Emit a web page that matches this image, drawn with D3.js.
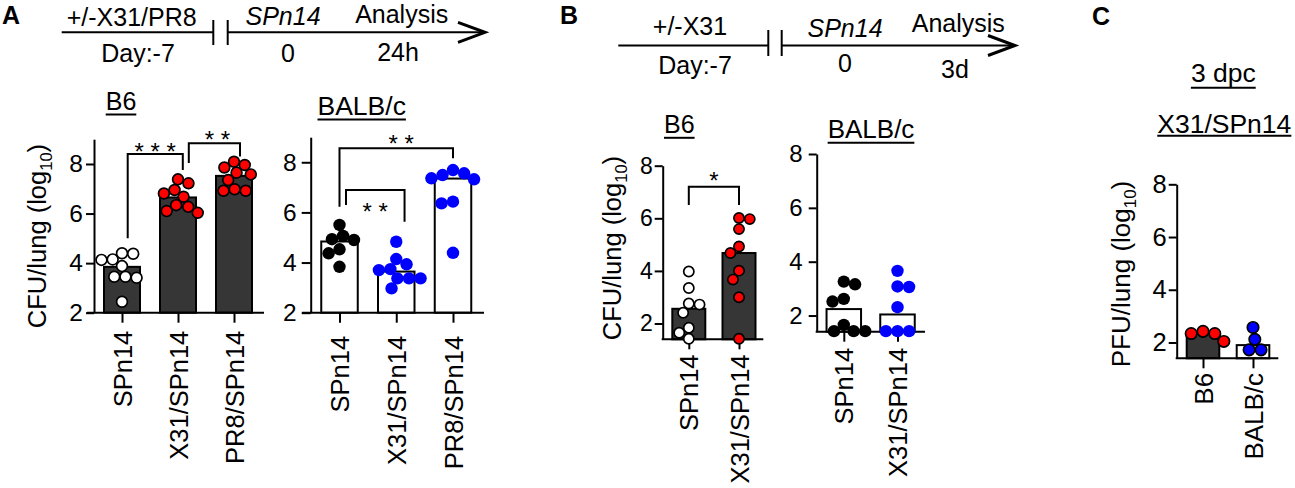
<!DOCTYPE html>
<html><head><meta charset="utf-8">
<script src="https://cdn.jsdelivr.net/npm/d3@7"></script>
<style>body{margin:0;background:#fff}svg{display:block}</style>
</head><body>
<script>
// ---------- DATA ----------
const catsA = ["SPn14", "X31/SPn14", "PR8/SPn14"];
const catsB = ["SPn14", "X31/SPn14"];
const catsC = ["B6", "BALB/c"];
const yTicks = [2, 4, 6, 8];

// Panel A, B6 (24h)
const aB6Bars = [3.85, 6.65, 7.52];
const aB6SPn14 = [4.40, 4.38, 4.15, 4.13, 3.88, 3.45, 3.45, 3.41, 2.44];
const aB6X31 = [7.38, 7.22, 6.95, 6.81, 6.68, 6.34, 6.27, 6.10, 6.03];
const aB6PR8 = [8.09, 7.96, 7.86, 7.65, 7.58, 7.35, 6.98, 6.92, 6.92];
// Panel A, BALB/c (24h)
const aBcBars = [4.84, 3.64, 7.35];
const aBcSPn14 = [5.50, 5.06, 4.93, 4.90, 4.53, 4.37, 3.83];
const aBcX31 = [4.83, 4.14, 3.93, 3.74, 3.70, 3.37, 3.37, 3.37, 2.97];
const aBcPR8 = [7.69, 7.56, 7.49, 7.36, 7.32, 6.43, 6.36, 4.39];
// Panel B, B6 (3d)
const bB6Bars = [2.56, 4.68];
const bB6SPn14 = [3.98, 3.35, 2.76, 2.72, 2.41, 1.84, 1.65, 1.42];
const bB6X31 = [6.01, 5.97, 5.59, 4.93, 4.68, 4.01, 3.67, 3.00, 1.42];
// Panel B, BALB/c (3d)
const bBcBars = [2.24, 2.04];
const bBcSPn14 = [3.26, 3.16, 2.62, 2.52, 1.65, 1.42, 1.42, 1.42];
const bBcX31 = [3.66, 3.08, 3.06, 2.31, 1.42, 1.42, 1.42];
// Panel C, PFU (3 dpc, X31/SPn14)
const cBars = [2.32, 1.90];
const cB6 = [2.42, 2.34, 2.34, 2.04];
const cBALBc = [2.57, 2.12, 1.72, 1.72];

// significance annotations (values in log10 units)
const sigAB6 = [
  {a: 0, b: 1, label: "* * *", top: 8.40, left: 5.00, right: 7.76},
  {a: 1, b: 2, label: "* *", top: 8.84, left: 8.04, right: 8.30}
];
const sigABc = [
  {a: 0, b: 2, label: "* *", top: 8.56, left: 6.23, right: 8.16},
  {a: 0, b: 1, label: "* *", top: 6.89, left: 6.30, right: 5.63}
];
const sigBB6 = [
  {a: 0, b: 1, label: "*", top: 7.20, left: 6.51, right: 6.51}
];

// ---------- DRAWING ----------
const FONT = "'Liberation Sans', Arial, Helvetica, sans-serif";
const svg = d3.select("body").append("svg").attr("width", 1295).attr("height", 488)
  .style("font-family", FONT);
svg.append("rect").attr("width", 1295).attr("height", 488).attr("fill", "#fff");

const DARK = "#363636", RED = "#ff0000", BLUE = "#0000ff", WHITE = "#ffffff";

function text(g, x, y, s, size, opts = {}) {
  const t = g.append("text").attr("x", x).attr("y", y).attr("font-size", size)
    .attr("text-anchor", opts.anchor || "middle").attr("fill", "#000").text(s);
  if (opts.bold) t.attr("font-weight", "bold");
  if (opts.italic) t.attr("font-style", "italic");
  return t;
}
function underlined(g, x, y, s, size, gap) {
  const t = text(g, x, y, s, size);
  const w = t.node().getComputedTextLength();
  g.append("line").attr("x1", x - w / 2).attr("x2", x + w / 2)
    .attr("y1", y + gap).attr("y2", y + gap).attr("stroke", "#000").attr("stroke-width", 2);
}
function yLabel(g, x, y, main, size) {
  const t = g.append("text").attr("transform", `translate(${x},${y}) rotate(-90)`)
    .attr("text-anchor", "middle").attr("font-size", size);
  t.append("tspan").text(main + " (log");
  t.append("tspan").attr("font-size", size * 0.65).attr("dy", size * 0.22).text("10");
  t.append("tspan").attr("dy", -size * 0.22).text(")");
}

// beeswarm placement of points around the category centre
function swarm(vals, y, r) {
  const pts = vals.map(v => ({v, y: y(v), x: 0})).sort((a, b) => a.y - b.y);
  const placed = [];
  for (const p of pts) {
    const iv = [];
    for (const q of placed) {
      const dy = p.y - q.y;
      if (Math.abs(dy) < 2 * r) {
        const dx = Math.sqrt(4 * r * r - dy * dy);
        iv.push([q.x - dx, q.x + dx]);
      }
    }
    const sum = d3.sum(placed, q => q.x);
    const cands = [0].concat(iv.flat()).sort((a, b) => {
      const d = Math.abs(a) - Math.abs(b);
      if (Math.abs(d) > 1e-6) return d;
      return sum > 0 ? a - b : b - a;
    });
    for (const c of cands) {
      if (iv.every(([l, h]) => c <= l + 1e-6 || c >= h - 1e-6)) { p.x = c; break; }
    }
    placed.push(p);
  }
  return placed;
}

function panel(cfg) {
  const g = svg.append("g");
  const y = d3.scaleLinear().domain(cfg.yDomain).range(cfg.yRange);
  const x = d3.scalePoint().domain(cfg.cats).range(cfg.catRange);
  const y0 = y(cfg.yDomain[0]);

  // bars
  g.selectAll("rect.bar").data(cfg.bars).join("rect")
    .attr("x", (d, i) => x(cfg.cats[i]) - cfg.barW / 2)
    .attr("y", d => y(d))
    .attr("width", cfg.barW)
    .attr("height", d => y0 - y(d))
    .attr("fill", (d, i) => cfg.barFill[i]).attr("stroke", "#000").attr("stroke-width", 2);

  // y axis
  const ya = g.append("g").attr("transform", `translate(${cfg.axisX},0)`)
    .call(d3.axisLeft(y).tickValues(yTicks).tickSize(cfg.tickLen || 8)
      .tickPadding(cfg.tickPad).tickSizeOuter(0).tickFormat(d3.format("d")));
  ya.select(".domain").attr("stroke-width", 2);
  ya.selectAll(".tick line").attr("stroke-width", 2);
  ya.selectAll(".tick text").attr("font-size", cfg.tickFont).attr("font-family", FONT).attr("fill", "#000");

  // x axis
  g.append("line").attr("x1", cfg.xStart).attr("x2", cfg.xEnd).attr("y1", y0).attr("y2", y0)
    .attr("stroke", "#000").attr("stroke-width", 2);
  const xa = g.append("g").attr("transform", `translate(0,${y0})`)
    .call(d3.axisBottom(x).tickSize(10).tickSizeOuter(0));
  xa.select(".domain").remove();
  xa.selectAll(".tick line").attr("stroke-width", 2);
  xa.selectAll(".tick text").attr("font-size", cfg.labelFont).attr("font-family", FONT).attr("fill", "#000")
    .attr("transform", "rotate(-90)").attr("x", -cfg.labelOff).attr("y", 0).attr("dy", "0.36em")
    .style("text-anchor", "end");

  // points
  cfg.points.forEach((vals, i) => {
    const cx = x(cfg.cats[i]);
    const st = cfg.pointStyle[i];
    const pts = swarm(vals, y, cfg.collide);
    g.selectAll(null).data(pts).join("circle")
      .attr("cx", d => cx + d.x).attr("cy", d => d.y)
      .attr("r", st.stroke ? cfg.r : cfg.r + 0.8)
      .attr("fill", st.fill)
      .attr("stroke", st.stroke ? "#000" : "none").attr("stroke-width", 1.7);
  });

  // significance brackets
  (cfg.sig || []).forEach((s, k) => {
    const o = cfg.sigOff[k];
    const xl = x(cfg.cats[s.a]) + o.l, xr = x(cfg.cats[s.b]) + o.r;
    g.append("path")
      .attr("d", `M${xl},${y(s.left)}V${y(s.top)}H${xr}V${y(s.right)}`)
      .attr("fill", "none").attr("stroke", "#000").attr("stroke-width", 2);
    text(g, (xl + xr) / 2 + (o.tx || 0), y(s.top) + o.ty, s.label, 24);
  });

  // title & y label
  cfg.titles.forEach(t => underlined(g, t.x, t.y, t.text, t.size, t.gap || 4.5));
  if (cfg.yLab) yLabel(g, cfg.yLab.x, cfg.yLab.y, cfg.yLab.text, cfg.yLab.size);
}

// Panel A
panel({
  cats: catsA, bars: aB6Bars, points: [aB6SPn14, aB6X31, aB6PR8],
  barFill: [DARK, DARK, DARK],
  pointStyle: [{fill: WHITE, stroke: true}, {fill: RED, stroke: true}, {fill: RED, stroke: true}],
  axisX: 94, xStart: 87, xEnd: 264, catRange: [122, 234], barW: 36,
  yDomain: [2, 9], yRange: [312.7, 139.2], tickFont: 24.5, tickPad: 3,
  labelFont: 25.5, labelOff: 18, r: 5.4, collide: 5.6,
  sig: sigAB6, sigOff: [{l: 5.7, r: 4.8, ty: 5.8}, {l: 10.8, r: 6, ty: 5.3, tx: 3}],
  titles: [{x: 121, y: 110, text: "B6", size: 25}],
  yLab: {x: 46, y: 236, text: "CFU/lung", size: 25.5}
});
panel({
  cats: catsA, bars: aBcBars, points: [aBcSPn14, aBcX31, aBcPR8],
  barFill: [WHITE, WHITE, WHITE],
  pointStyle: [{fill: "#000"}, {fill: BLUE}, {fill: BLUE}],
  axisX: 310.7, xStart: 302, xEnd: 484, catRange: [339.5, 453], barW: 36.5,
  yDomain: [2, 9], yRange: [312.7, 137.2], tickFont: 24.5, tickPad: 5, tickLen: 9,
  labelFont: 25.5, labelOff: 23.2, r: 5.4, collide: 5.8,
  sig: sigABc, sigOff: [{l: 0, r: 0, ty: 3.7, tx: 5}, {l: 6.5, r: 8.3, ty: 29.7}],
  titles: [{x: 361.7, y: 115, text: "BALB/c", size: 26.5}]
});

// Panel B
panel({
  cats: catsB, bars: bB6Bars, points: [bB6SPn14, bB6X31],
  barFill: [DARK, DARK],
  pointStyle: [{fill: WHITE, stroke: true}, {fill: RED, stroke: true}],
  axisX: 662.7, xStart: 661.7, xEnd: 763.3, catRange: [688.8, 739], barW: 33,
  yDomain: [1.4, 8], yRange: [339.3, 165.7], tickFont: 23, tickPad: 2,
  labelFont: 25.5, labelOff: 15.2, r: 5.1, collide: 5.4,
  sig: sigBB6, sigOff: [{l: 0, r: 0, ty: 1.9}],
  titles: [{x: 679.3, y: 133.3, text: "B6", size: 25}],
  yLab: {x: 621, y: 248, text: "CFU/lung", size: 25.5}
});
panel({
  cats: catsB, bars: bBcBars, points: [bBcSPn14, bBcX31],
  barFill: [WHITE, WHITE],
  pointStyle: [{fill: "#000"}, {fill: BLUE}],
  axisX: 816.7, xStart: 815.7, xEnd: 925, catRange: [843.8, 897.5], barW: 34.5,
  yDomain: [1.4, 8], yRange: [331.7, 154], tickFont: 24, tickPad: 6,
  labelFont: 25.5, labelOff: 16.2, r: 5.4, collide: 5.8,
  titles: [{x: 871, y: 138.3, text: "BALB/c", size: 26}]
});

// Panel C
panel({
  cats: catsC, bars: cBars, points: [cB6, cBALBc],
  barFill: [DARK, WHITE],
  pointStyle: [{fill: RED, stroke: true}, {fill: BLUE, stroke: true}],
  axisX: 1176.7, xStart: 1175.7, xEnd: 1278.3, catRange: [1203, 1253], barW: 32.6,
  yDomain: [1.4, 8], yRange: [358.3, 184.3], tickFont: 25.5, tickPad: 2,
  labelFont: 26, labelOff: 14.6, r: 5.7, collide: 6,
  titles: [{x: 1223.3, y: 81.7, text: "3 dpc", size: 26.5, gap: 6},
           {x: 1224.3, y: 132.7, text: "X31/SPn14", size: 26.5, gap: 3}],
  yLab: {x: 1130, y: 274, text: "PFU/lung", size: 26}
});

// ---------- timelines & panel letters ----------
function timeline(g, y, x0, xb1, xb2, xt, barTop, barBot) {
  const add = (d, w) => g.append("path").attr("d", d).attr("stroke", "#000")
    .attr("stroke-width", w || 2).attr("fill", "none");
  add(`M${x0},${y}H${xb1}`);
  add(`M${xb1},${barTop}V${barBot}`);
  add(`M${xb2},${barTop}V${barBot}`);
  add(`M${xb2},${y}H${xt - 2}`);
  add(`M${xt - 27},${y - 10}L${xt},${y}L${xt - 27},${y + 10}`, 3);
}
const tl = svg.append("g");
timeline(tl, 32.3, 61.7, 213.3, 227.7, 485, 20, 45);
text(tl, 131.7, 25.5, "+/-X31/PR8", 25);
text(tl, 138, 61.7, "Day:-7", 25);
text(tl, 283, 25, "SPn14", 25, {italic: true});
text(tl, 288, 61.7, "0", 25);
text(tl, 401.7, 23, "Analysis", 25);
text(tl, 398, 60.7, "24h", 25);

timeline(tl, 45.5, 618.3, 768.3, 781.7, 1015, 30, 56);
text(tl, 690, 35, "+/-X31", 25);
text(tl, 695, 74, "Day:-7", 25);
text(tl, 845, 36.7, "SPn14", 25, {italic: true});
text(tl, 845, 71.7, "0", 25);
text(tl, 958.3, 31.7, "Analysis", 25);
text(tl, 955, 78.3, "3d", 25);

text(tl, 2, 23.5, "A", 25, {bold: true, anchor: "start"});
text(tl, 560, 23.5, "B", 25, {bold: true, anchor: "start"});
text(tl, 1092, 25, "C", 25, {bold: true, anchor: "start"});
</script>
</body></html>
